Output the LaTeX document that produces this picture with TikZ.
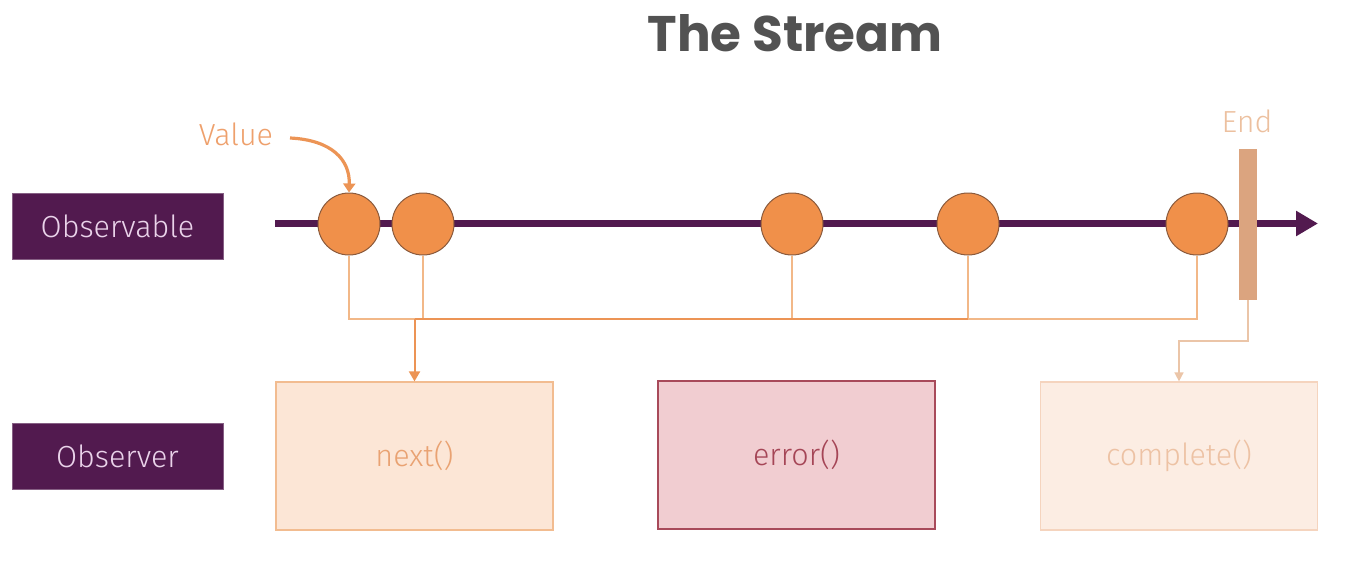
\documentclass[tikz,border=0pt]{standalone}
\usepackage{fontspec}
\setmainfont{Fira Sans Light}
\newfontfamily\titlefont{Poppins}[UprightFont=* Bold]
\usetikzlibrary{arrows.meta}
\definecolor{plum}{HTML}{521A4F}
\definecolor{plumtext}{HTML}{EAD3EA}
\definecolor{dot}{HTML}{F0904A}
\definecolor{dotrim}{HTML}{8A5A3C}
\definecolor{wire}{HTML}{F2B888}
\definecolor{wiredark}{HTML}{EC9455}
\definecolor{endbar}{HTML}{DBA47F}
\definecolor{endwire}{HTML}{EBC5A8}
\definecolor{nextfill}{HTML}{FCE6D6}
\definecolor{nextdraw}{HTML}{F2BC90}
\definecolor{nexttext}{HTML}{E9A272}
\definecolor{errfill}{HTML}{F1CDD1}
\definecolor{errdraw}{HTML}{A84A5A}
\definecolor{errtext}{HTML}{A54556}
\definecolor{compfill}{HTML}{FCEDE3}
\definecolor{compdraw}{HTML}{F5D4BE}
\definecolor{comptext}{HTML}{EDC2A4}
\definecolor{valtext}{HTML}{EEA06C}
\begin{document}
\begin{tikzpicture}[x=1pt,y=-1pt,
  lbl/.style={font=\fontsize{30.5}{34}\selectfont},
  role/.style={lbl,fill=plum,draw=plum!70!white,minimum width=211pt,minimum height=66pt,
    text=plumtext,inner sep=0pt},
  event/.style={circle,fill=dot,draw=dotrim,line width=1pt,minimum size=62pt,inner sep=0pt},
  handler/.style={lbl,minimum width=277pt,minimum height=148pt,line width=1.2pt,inner sep=0pt},
  tap/.style={wire,line width=1.5pt},
  feed/.style={wiredark,line width=2pt,-{Triangle[length=10pt,width=11pt]}},
]
\useasboundingbox (0,0) rectangle (1346,568);

% heading
\node[text=black!68,font=\titlefont\fontsize{50}{54}\selectfont] (title) at (795,33) {The Stream};

% left-hand labels
\node[role] (observable) at (117.5,226) {Observable};
\node[role] (observer) at (117.5,456.5) {Observer};

% the stream itself
\coordinate (start) at (275,223.5);
\coordinate (tip) at (1318,223.5);
\draw[plum,line width=7pt,-{Triangle[length=22pt,width=24pt]}] (start) -- (tip);

% emitted values
\node[event] (v1) at (349,224) {};
\node[event] (v2) at (423,224) {};
\node[event] (v3) at (792,224) {};
\node[event] (v4) at (968,224) {};
\node[event] (v5) at (1197,224) {};

% completion marker
\node[fill=endbar,minimum width=18pt,minimum height=151pt,inner sep=0pt] (endmark) at (1248,224.5) {};
\node[lbl,text=endwire!90!dot] (endlbl) at (1247,121) {End};

% "Value" callout
\node[lbl,text=valtext] (vallbl) at (236,134) {Value};
\coordinate (callout) at (290,138);
\draw[wiredark,line width=3.2pt,-{Triangle[length=9pt,width=12pt]}]
  (callout) .. controls (332,140) and (350,160) .. (v1.north);

% handlers
\node[handler,fill=nextfill,draw=nextdraw,text=nexttext] (next) at (414.5,456) {next()};
\node[handler,fill=errfill,draw=errdraw,text=errtext] (error) at (796.5,455) {error()};
\node[handler,fill=compfill,draw=compdraw,text=comptext] (complete) at (1179,456) {complete()};

% taps from each value down to the collector
\coordinate (bus) at (0,319);
\draw[tap] (v1.south) -- (v1.south |- bus) -- (v2.south |- bus) -- (v2.south);
\draw[tap] (v3.south) -- (v3.south |- bus);
\draw[tap] (v4.south) -- (v4.south |- bus);
\draw[tap] (v5.south) -- (v5.south |- bus) -- (v4.south |- bus);
\draw[wiredark,line width=2pt] (next.north |- bus) -- (v4.south |- bus);
\draw[feed] (next.north |- bus) -- (next.north);

% completion signal
\coordinate (bend) at (1248,341);
\draw[endwire,line width=1.5pt,-{Triangle[length=9pt,width=9pt]}]
  (endmark.south) -- (bend) -| (complete.north);
\end{tikzpicture}
\end{document}
